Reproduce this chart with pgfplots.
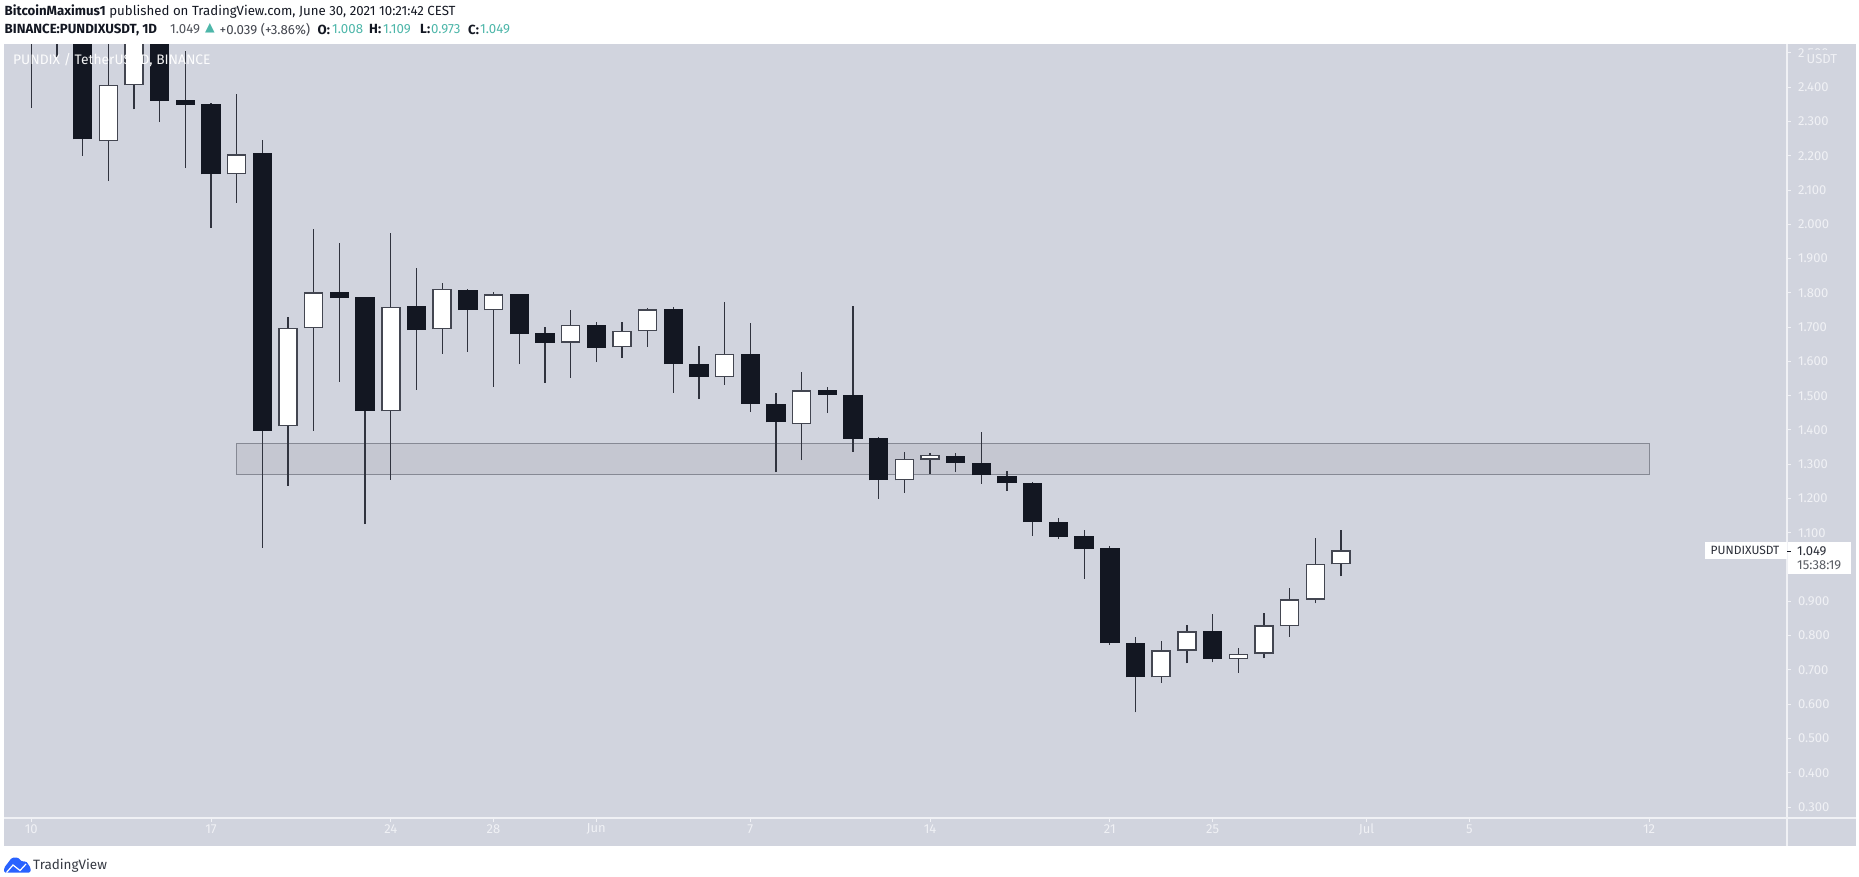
\documentclass[border=0pt]{standalone}
\usepackage{pgfplots}
\usepackage{pgfplotstable}
\usepackage{fontspec}
\pgfplotsset{compat=1.18}
\setmainfont{Fira Sans}
\newfontfamily\symfont{DejaVu Sans}
\newcommand{\tvfont}{\fontsize{13}{15}\selectfont}
\newcommand{\hdfont}{\fontsize{13.25}{15}\selectfont}
\definecolor{panel}{HTML}{D1D4DE}
\definecolor{ink}{HTML}{131722}
\definecolor{scalew}{HTML}{F0F1F5}
\definecolor{teal}{HTML}{4DB6A9}
\definecolor{tvblue}{HTML}{2962FF}
\definecolor{zonefill}{HTML}{C5C7D1}
\definecolor{zoneline}{HTML}{868994}
% day index (0 = 10 May), open, high, low, close
\pgfplotstableread{
i o h l c
3 2.242 2.700 2.126 2.407
4 2.406 2.800 2.335 2.650
8 2.146 2.380 2.063 2.204
10 1.411 1.731 1.237 1.698
11 1.697 1.987 1.398 1.802
14 1.455 1.976 1.255 1.760
16 1.694 1.830 1.622 1.811
18 1.750 1.803 1.526 1.796
21 1.655 1.749 1.553 1.706
23 1.641 1.716 1.610 1.689
24 1.688 1.755 1.643 1.752
27 1.554 1.773 1.532 1.623
30 1.417 1.570 1.312 1.516
34 1.253 1.335 1.217 1.316
35 1.313 1.332 1.271 1.328
44 0.678 0.784 0.663 0.757
45 0.756 0.832 0.719 0.813
47 0.732 0.763 0.692 0.747
48 0.747 0.865 0.734 0.830
49 0.827 0.938 0.797 0.906
50 0.905 1.085 0.894 1.010
51 1.008 1.109 0.973 1.049
}\upcandles
\pgfplotstableread{
i o h l c
0 2.700 2.800 2.340 2.600
1 2.750 2.850 2.489 2.650
2 2.900 3.000 2.200 2.248
5 2.700 2.800 2.298 2.361
6 2.363 2.506 2.164 2.348
7 2.350 2.353 1.990 2.146
9 2.207 2.246 1.056 1.398
12 1.803 1.945 1.541 1.785
13 1.787 1.787 1.125 1.455
15 1.761 1.872 1.518 1.691
17 1.809 1.811 1.628 1.750
19 1.796 1.796 1.592 1.679
20 1.683 1.699 1.538 1.655
22 1.707 1.716 1.598 1.640
25 1.752 1.758 1.509 1.592
26 1.593 1.645 1.490 1.554
28 1.623 1.711 1.452 1.476
29 1.477 1.507 1.277 1.422
31 1.516 1.525 1.449 1.503
32 1.501 1.761 1.336 1.375
33 1.377 1.380 1.199 1.253
36 1.325 1.332 1.278 1.304
37 1.305 1.394 1.243 1.268
38 1.266 1.281 1.223 1.244
39 1.245 1.248 1.092 1.131
40 1.132 1.142 1.083 1.089
41 1.091 1.108 0.966 1.053
42 1.055 1.061 0.773 0.778
43 0.778 0.796 0.576 0.678
46 0.813 0.862 0.722 0.732
}\downcandles
\begin{document}
\begin{tikzpicture}
\path[use as bounding box] (0pt,0pt) rectangle (1859pt,-876pt);
\fill[panel] (4pt,-44pt) rectangle (1856pt,-846pt);
\begin{axis}[
  at={(4pt,-818pt)}, anchor=south west,
  width=1783pt, height=774pt, scale only axis,
  xmin=-1.063, xmax=68.37, ymin=0.268, ymax=2.526,
  axis x line*=bottom, axis y line*=right,
  axis line style={draw=scalew, line width=1.4pt},
  tick style={draw=scalew, line width=1pt},
  major tick length=4pt, tick align=outside,
  xtick={0,7,14,18,22,28,35,42,46,52,56,63},
  xticklabels={10,17,24,28,Jun,7,14,21,25,Jul,5,12},
  ytick={0.3,0.4,0.5,0.6,0.7,0.8,0.9,1.0,1.1,1.2,1.3,1.4,1.5,1.6,1.7,1.8,1.9,2.0,2.1,2.2,2.3,2.4,2.5},
  yticklabel style={/pgf/number format/fixed, /pgf/number format/fixed zerofill,
     /pgf/number format/precision=3, /pgf/number format/assume math mode=true,
     anchor=west, xshift=3.5pt},
  ticklabel style={font=\tvfont, text=scalew},
  xticklabel style={anchor=center, yshift=-7pt},
]
% resistance zone
\addplot[fill=zonefill, draw=zoneline, line width=1pt, forget plot] coordinates {(8,1.270) (63,1.270) (63,1.361) (8,1.361)} -- cycle;
% wicks
\addplot[draw=none, mark=none, forget plot, error bars/.cd, y dir=plus, y explicit, error mark=none,
  error bar style={draw=ink!85!panel, line width=1.3pt, solid}]
  table[x=i, y=l, y error plus expr=\thisrow{h}-\thisrow{l}] {\upcandles};
\addplot[draw=none, mark=none, forget plot, error bars/.cd, y dir=plus, y explicit, error mark=none,
  error bar style={draw=ink!85!panel, line width=1.3pt, solid}]
  table[x=i, y=l, y error plus expr=\thisrow{h}-\thisrow{l}] {\downcandles};
% bodies: falling days
\addplot[draw=none, mark=none, forget plot, error bars/.cd, y dir=plus, y explicit, error mark=none,
  error bar style={draw=ink, line width=19.4pt, solid}]
  table[x=i, y=c, y error plus expr=\thisrow{o}-\thisrow{c}] {\downcandles};
% bodies: rising days, outline then white inside
\addplot[draw=none, mark=none, forget plot, error bars/.cd, y dir=plus, y explicit, error mark=none,
  error bar style={draw=ink!75!panel, line width=19.4pt, solid}]
  table[x=i, y=o, y error plus expr=\thisrow{c}-\thisrow{o}] {\upcandles};
\addplot[draw=none, mark=none, forget plot, error bars/.cd, y dir=plus, y explicit, error mark=none,
  error bar style={draw=white, line width=16.6pt, solid}]
  table[x=i, y expr=\thisrow{o}+0.004, y error plus expr=\thisrow{c}-\thisrow{o}-0.008] {\upcandles};
\end{axis}
\begin{scope}[x=1pt,y=-1pt]
% scale lines reach to the panel edges
\draw[scalew, line width=1.4pt] (4,818) -- (1856,818);
\draw[scalew, line width=1.4pt] (1787,44) -- (1787,846);
% currency label covers the clipped top tick label
\fill[panel] (1805,49.5) rectangle (1840,67);
\node[anchor=west, text=scalew, inner sep=0pt, font=\tvfont] at (1806.5,59.5) {USDT};
\node[anchor=west, text=white, opacity=0.95, inner sep=0pt, font=\fontsize{13.8}{15}\selectfont] at (13,60.5) {PUNDIX / TetherUS 1D, BINANCE};
% last price label
\fill[white] (1705,542) rectangle (1787,559);
\fill[white] (1788,542) rectangle (1851,573.7);
\draw[ink, line width=1pt] (1787,551) -- (1791,551);
\node[anchor=west, text=ink!90, inner sep=0pt, font=\fontsize{12}{14}\selectfont] at (1710.5,550.5) {PUNDIXUSDT};
\node[anchor=west, text=ink!90, inner sep=0pt, font=\tvfont] at (1797,551) {1.049};
\node[anchor=west, text=ink!70, inner sep=0pt, font=\tvfont] at (1797,565) {15:38:19};
% header
\begin{scope}[every node/.style={anchor=west, text=ink, inner sep=0pt, font=\hdfont}]
\node at (4.5,12) {\textbf{BitcoinMaximus1} published on TradingView.com, June 30, 2021 10:21:42 CEST};
\node at (4.5,29.5) {\textbf{BINANCE:PUNDIXUSDT, 1D}};
\node[text=ink!75] at (170,29.5) {1.049};
\node[text=teal, font=\fontsize{12.5}{15}\symfont] at (205,28.5) {▲};
\node[text=ink!80] at (219.5,29.5) {+0.039 (+3.86\%)};
\node at (317.5,29.5) {\textbf{O:}};
\node[text=teal] at (332,29.5) {1.008};
\node at (369,29.5) {\textbf{H:}};
\node[text=teal] at (383,29.5) {1.109};
\node at (420,29.5) {\textbf{L:}};
\node[text=teal] at (431,29.5) {0.973};
\node at (468,29.5) {\textbf{C:}};
\node[text=teal] at (480,29.5) {1.049};
\end{scope}
% footer logo and name
\fill[tvblue, rounded corners=1.5pt] (4,872.5) -- (4,868) -- (12,857.5) -- (18,857.5) -- (22.5,862) -- (26,861) -- (30.7,868) -- (30.7,872.5) -- cycle;
\draw[white, line width=1.2pt] (6.5,872.5) -- (13,865) -- (20,870.5) -- (26,864);
\node[anchor=west, text=ink!85, inner sep=0pt, font=\fontsize{13.5}{16}\selectfont] at (33,865.5) {TradingView};
\end{scope}
\end{tikzpicture}
\end{document}
